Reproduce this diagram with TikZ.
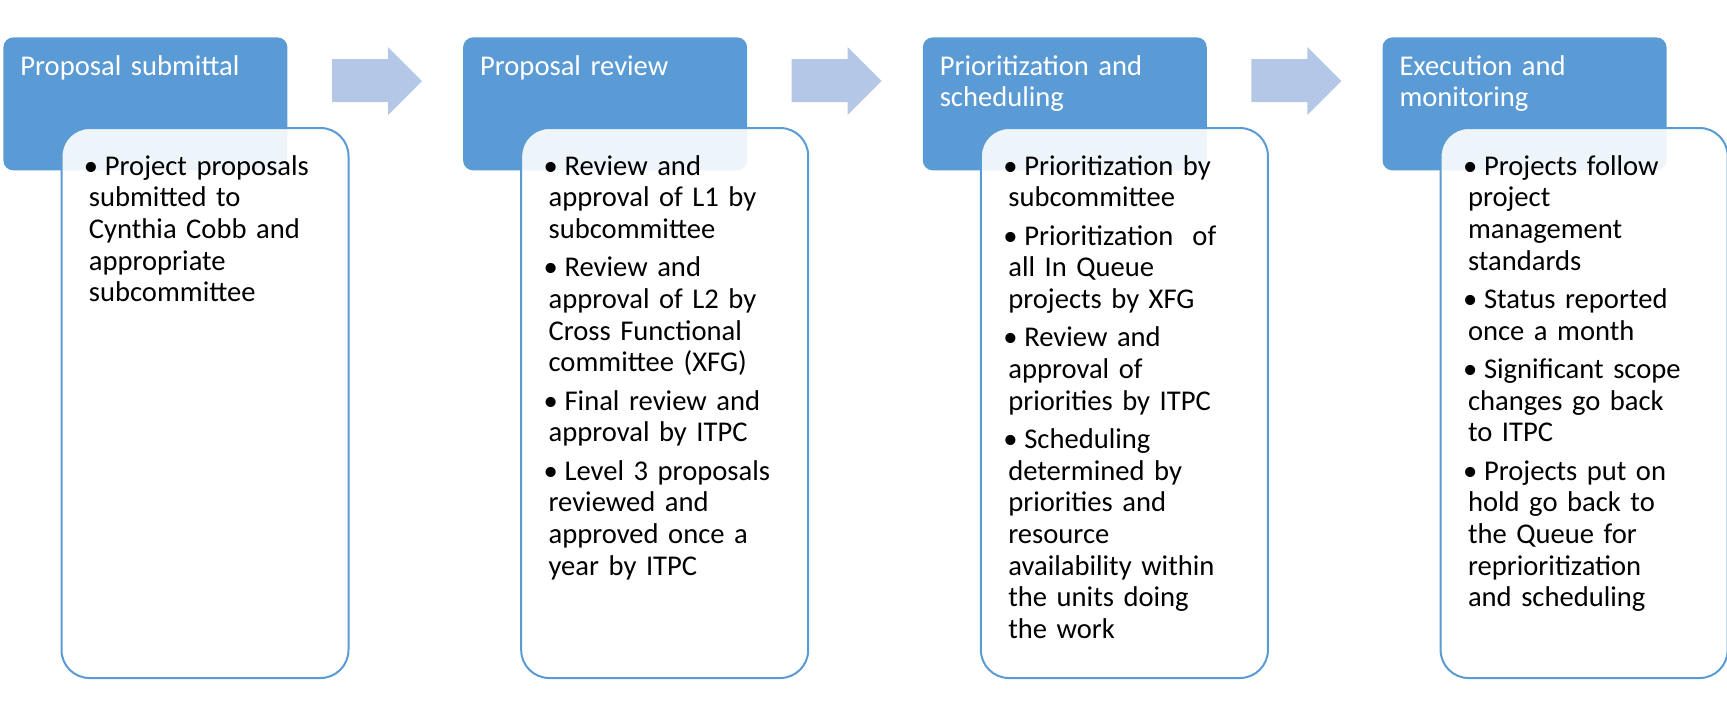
\documentclass[tikz,border=0pt]{standalone}
\usepackage{fontspec}
\setmainfont{Carlito}
\definecolor{hdrblue}{RGB}{91,155,213}
\definecolor{arrblue}{RGB}{180,199,231}
\newcommand{\bul}[1]{\noindent\hangindent=8pt\hangafter=1\makebox[8pt][l]{\hspace{-2.5pt}\textbullet}#1\par\setlength{\parskip}{3.3pt}}
\tikzset{
  hdrbox/.style={fill=hdrblue, rounded corners=5pt, minimum width=142pt, minimum height=66.5pt, inner sep=0pt, anchor=north west},
  bodybox/.style={draw=hdrblue, line width=1pt, fill=white, fill opacity=0.9, rounded corners=14pt, minimum width=143.5pt, minimum height=275pt, inner sep=0pt, anchor=north west},
  hdrtext/.style={text=white, anchor=base west, inner sep=0pt, text width=135pt, align=left, font=\fontsize{14.3pt}{15.85pt}\selectfont},
  bodytext/.style={text=black, anchor=base west, inner sep=0pt, text width=140pt, align=left, font=\fontsize{14.3pt}{15.85pt}\selectfont},
  blockarrow/.style={fill=arrblue}
}
\begin{document}
\begin{tikzpicture}[x=0.5pt,y=-0.5pt]
\useasboundingbox (0,0) rectangle (1727,714);
% block arrows
\foreach \i in {0,1,2}{
  \fill[blockarrow, shift={(\i*459.7,0)}] (332,59) -- (388,59) -- (388,47) -- (422,81) -- (388,115) -- (388,102) -- (332,102) -- cycle;
}
% headers
\node[hdrbox] (h1) at (3,37) {};
\node[hdrbox] (h2) at (462.7,37) {};
\node[hdrbox] (h3) at (922.4,37) {};
\node[hdrbox] (h4) at (1382.1,37) {};
% body boxes
\node[bodybox] (b1) at (60.5,127) {};
\node[bodybox] (b2) at (520.2,127) {};
\node[bodybox] (b3) at (979.9,127) {};
\node[bodybox] (b4) at (1439.6,127) {};
% header texts
\node[hdrtext] (ht1) at (20,75) {Proposal submittal};
\node[hdrtext] (ht2) at (479.7,75) {Proposal review};
\node[hdrtext] (ht3) at (939.4,75) {Prioritization and\\scheduling};
\node[hdrtext] (ht4) at (1399.1,75) {Execution and\\monitoring};
% body texts
\node[bodytext] (bt1) at (88.5,175) {\bul{Project proposals\\submitted to\\Cynthia Cobb and\\appropriate\\subcommittee}};
\node[bodytext] (bt2) at (548.2,175) {\bul{Review and\\approval of L1 by\\subcommittee}\bul{Review and\\approval of L2 by\\Cross Functional\\committee (XFG)}\bul{Final review and\\approval by ITPC}\bul{Level 3 proposals\\reviewed and\\approved once a\\year by ITPC}};
\node[bodytext] (bt3) at (1007.9,175) {\bul{Prioritization by\\subcommittee}\bul{Prioritization~ of\\all In Queue\\projects by XFG}\bul{Review and\\approval of\\priorities by ITPC}\bul{Scheduling\\determined by\\priorities and\\resource\\availability within\\the units doing\\the work}};
\node[bodytext] (bt4) at (1467.6,175) {\bul{Projects follow\\project\\management\\standards}\bul{Status reported\\once a month}\bul{Significant scope\\changes go back\\to ITPC}\bul{Projects put on\\hold go back to\\the Queue for\\reprioritization\\and scheduling}};
\end{tikzpicture}
\end{document}
